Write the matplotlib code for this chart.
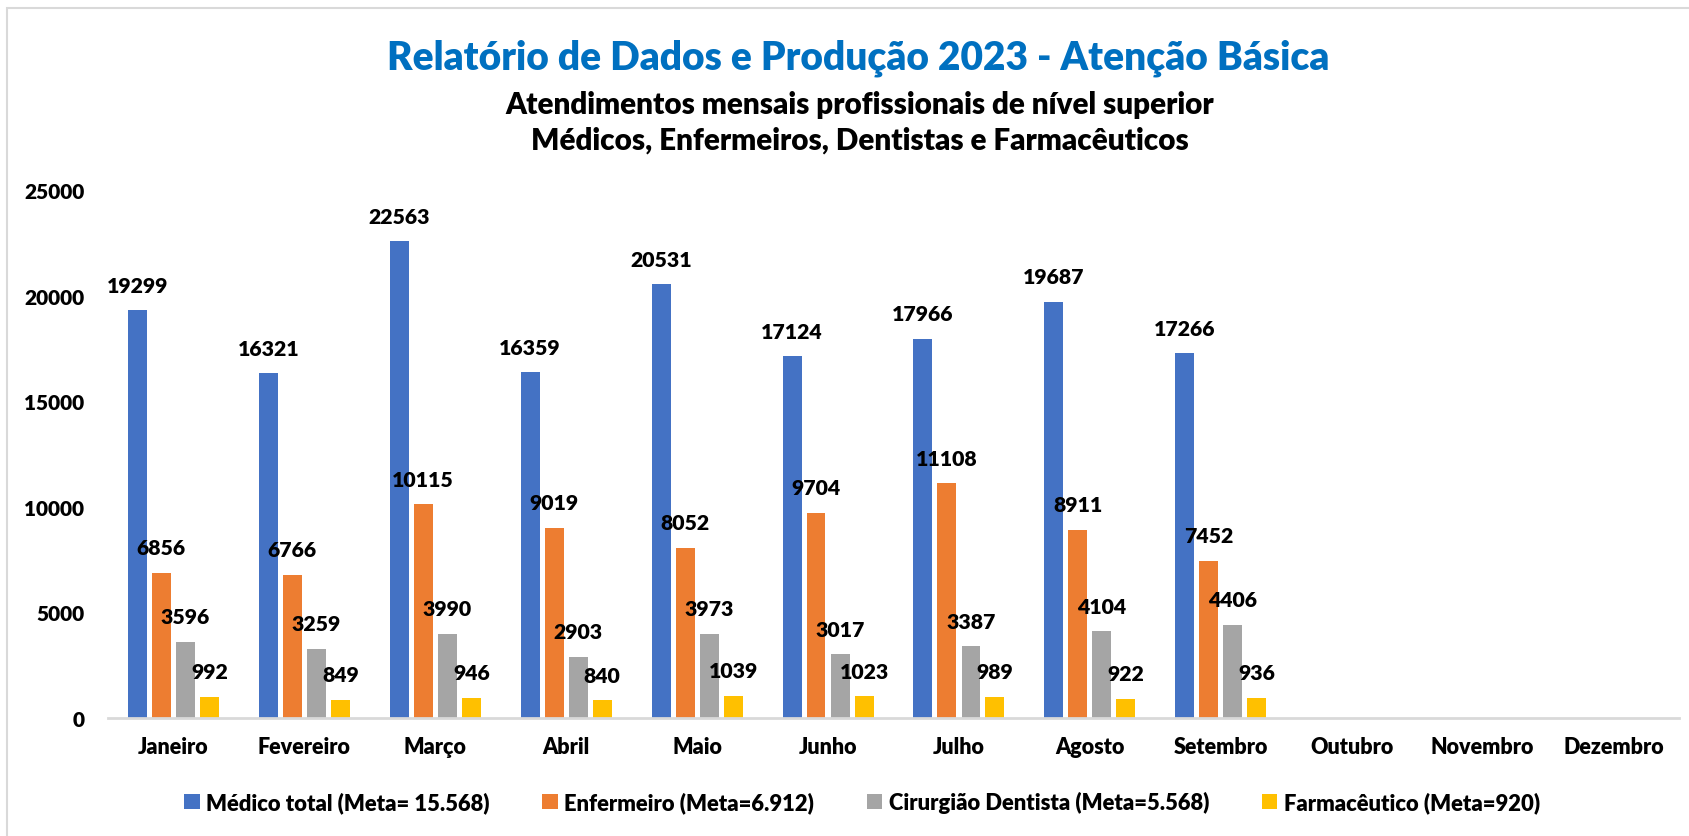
import matplotlib.pyplot as plt
import numpy as np
from matplotlib.patches import Rectangle

plt.rcParams['font.family'] = ['Lato', 'DejaVu Sans']
plt.rcParams['font.weight'] = 'heavy'

# Data (Jan - Sep 2023)
meses = ['Janeiro', 'Fevereiro', 'Março', 'Abril', 'Maio', 'Junho',
         'Julho', 'Agosto', 'Setembro', 'Outubro', 'Novembro', 'Dezembro']
medico = [19299, 16321, 22563, 16359, 20531, 17124, 17966, 19687, 17266]
enfermeiro = [6856, 6766, 10115, 9019, 8052, 9704, 11108, 8911, 7452]
dentista = [3596, 3259, 3990, 2903, 3973, 3017, 3387, 4104, 4406]
farmaceutico = [992, 849, 946, 840, 1039, 1023, 989, 922, 936]

series = [
    ('Médico total (Meta= 15.568)', medico, '#4472C4'),
    ('Enfermeiro (Meta=6.912)', enfermeiro, '#ED7D31'),
    ('Cirurgião Dentista (Meta=5.568)', dentista, '#A5A5A5'),
    ('Farmacêutico (Meta=920)', farmaceutico, '#FFC000'),
]

fig = plt.figure(figsize=(16.9, 8.37), dpi=100)

# chart border like the Excel chart area
fig.patches.append(Rectangle((7 / 1690, -0.05), 1.2, (837 - 9) / 837 + 0.05,
                             transform=fig.transFigure, fill=False,
                             edgecolor='#D9D9D9', lw=1.5))

ax = fig.add_axes([108 / 1690, 118 / 837, 1571 / 1690, 528 / 837])

x = np.arange(len(meses))
width = 0.145
offsets = [-0.275, -0.092, 0.092, 0.275]

for (label, vals, color), off in zip(series, offsets):
    xs = x[:len(vals)] + off
    bars = ax.bar(xs, vals, width, color=color, label=label)
    for bar, v in zip(bars, vals):
        ax.annotate(f'{v}', (bar.get_x() + bar.get_width() / 2, v),
                    xytext=(0, 13.5), textcoords='offset points',
                    ha='center', va='baseline', fontsize=15.3, fontweight='heavy')

ax.set_xlim(-0.5, len(meses) - 0.5)
ax.set_ylim(0, 25000)
ax.set_yticks(range(0, 25001, 5000))
ax.set_xticks(x)
ax.set_xticklabels(meses)
ax.tick_params(axis='both', length=0)
ax.tick_params(axis='y', pad=17, labelsize=15)
ax.tick_params(axis='x', pad=13, labelsize=15.5)

for s in ['top', 'right', 'left']:
    ax.spines[s].set_visible(False)
ax.spines['bottom'].set_color('#D9D9D9')
ax.spines['bottom'].set_linewidth(2)

fig.text(858 / 1690, 1 - 58 / 837, 'Relatório de Dados e Produção 2023 - Atenção Básica',
         ha='center', va='center', fontsize=28, fontweight='heavy', color='#0070C0')
fig.text(860 / 1690, 1 - 105 / 837, 'Atendimentos mensais profissionais de nível superior',
         ha='center', va='center', fontsize=21.3, fontweight='heavy', color='black')
fig.text(860 / 1690, 1 - 141 / 837, 'Médicos, Enfermeiros, Dentistas e Farmacêuticos',
         ha='center', va='center', fontsize=21.3, fontweight='heavy', color='black')

fig.legend(loc='center', bbox_to_anchor=(862 / 1690, 1 - 803 / 837), ncol=4,
           frameon=False, fontsize=15.8, handlelength=0.7, handleheight=0.7,
           handletextpad=0.3, columnspacing=2.4)

plt.savefig('out.png', dpi=100)
